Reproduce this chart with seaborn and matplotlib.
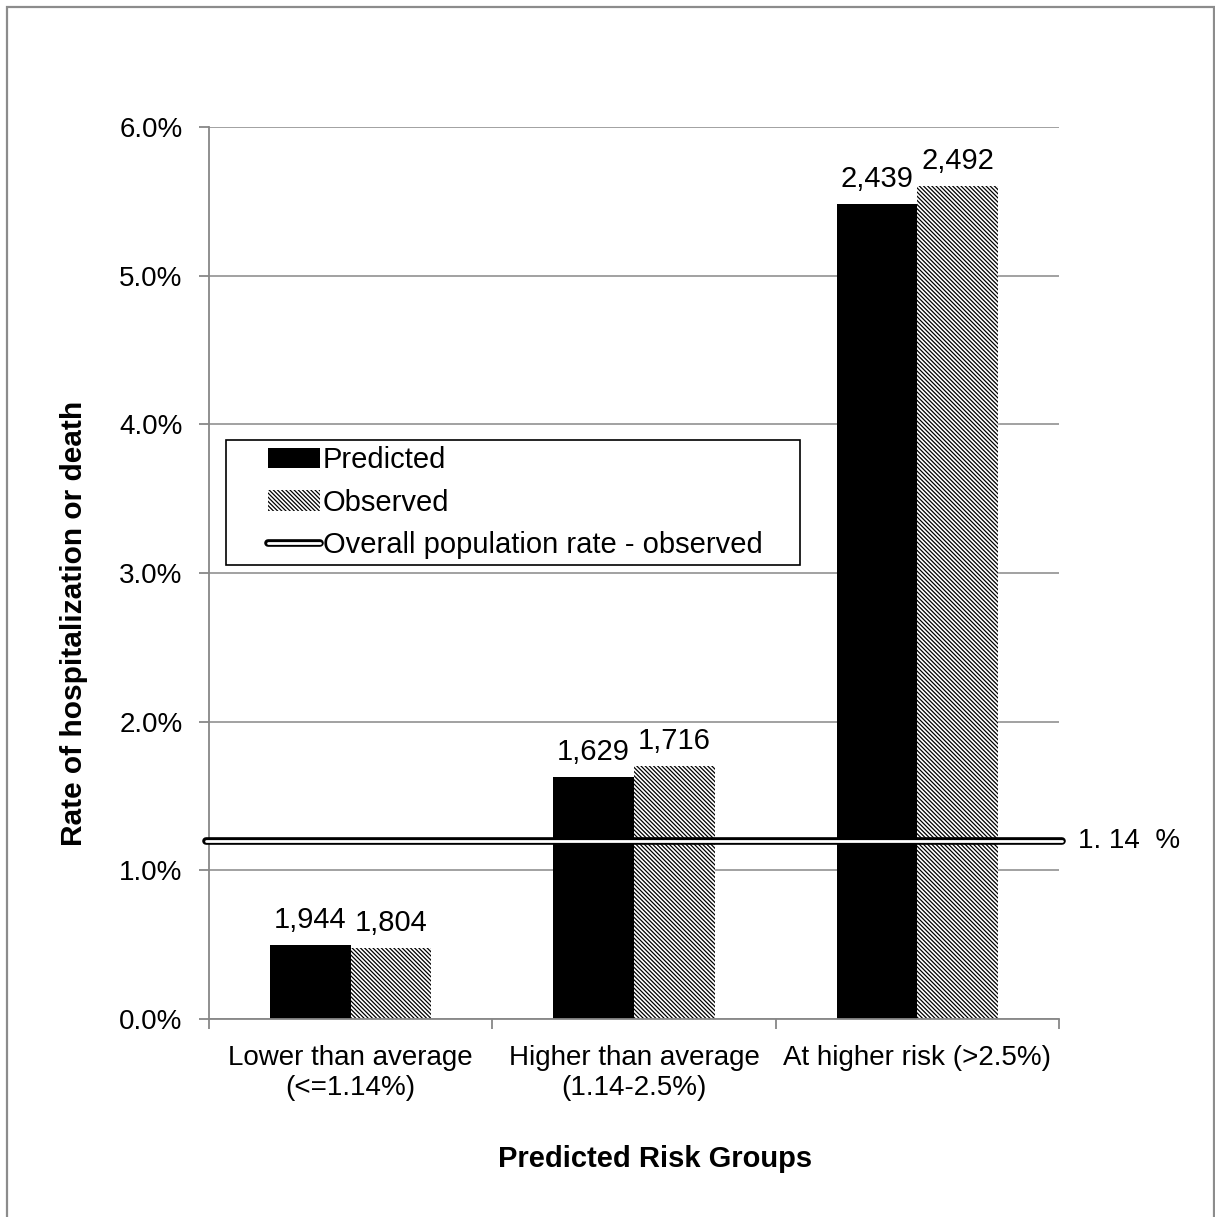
import numpy as np
import pandas as pd
import seaborn as sns
import matplotlib.pyplot as plt
import matplotlib.patheffects as pe
from matplotlib.patches import Patch, Rectangle
from matplotlib.lines import Line2D

# values (rate in %)
groups = ['Lower than average\n(<=1.14%)', 'Higher than average\n(1.14-2.5%)', 'At higher risk (>2.5%)']
predicted = [0.50, 1.63, 5.48]
observed = [0.48, 1.70, 5.60]
predicted_n = ['1,944', '1,629', '2,439']
observed_n = ['1,804', '1,716', '2,492']
overall_rate = 1.2
overall_label = '1. 14  %'
yticks = [0, 1, 2, 3, 4, 5, 6]

df = pd.DataFrame({'group': groups * 2,
                   'series': ['Predicted'] * 3 + ['Observed'] * 3,
                   'rate': predicted + observed})

sns.set_theme(style='white')
plt.rcParams['font.family'] = ['Liberation Sans', 'DejaVu Sans']
plt.rcParams['hatch.linewidth'] = 0.9
plt.rcParams['text.color'] = 'black'
plt.rcParams['axes.labelcolor'] = 'black'
plt.rcParams['xtick.color'] = 'black'
plt.rcParams['ytick.color'] = 'black'

grey = '#878787'
fs = 20
hatch = '\\' * 8

fig = plt.figure(figsize=(12.15, 12.17), dpi=100)
ax = fig.add_axes([0.172, 0.1627, 0.6996, 0.733])

sns.barplot(data=df, x='group', y='rate', hue='series', palette=['black', 'white'],
            width=0.57, gap=0, saturation=1, linewidth=0, legend=False, ax=ax)

for bar in ax.containers[1]:
    bar.set_hatch(hatch)
    bar.set_edgecolor('black')
    bar.set_linewidth(0)

ax.bar_label(ax.containers[0], labels=predicted_n, padding=8, fontsize=21)
ax.bar_label(ax.containers[1], labels=observed_n, padding=8, fontsize=21)

# overall population rate: double line
ax.plot([-0.51, 2.51], [overall_rate, overall_rate], color='white', lw=2,
        solid_capstyle='round', clip_on=False, zorder=5,
        path_effects=[pe.Stroke(linewidth=5.5, foreground='black'), pe.Normal()])
ax.text(1.022, overall_rate, overall_label, transform=ax.get_yaxis_transform(),
        va='center', ha='left', fontsize=fs)

ax.set_xlim(-0.5, 2.5)
ax.set_ylim(0, 6)
ax.set_yticks(yticks)
ax.set_yticklabels([f'{t:.1f}%' for t in yticks])
ax.set_xticks(np.arange(len(groups) + 1) - 0.5, minor=True)
ax.yaxis.grid(True, color=grey, lw=1.1)
ax.set_axisbelow(True)

for s in ['top', 'right']:
    ax.spines[s].set_visible(False)
for s in ['left', 'bottom']:
    ax.spines[s].set_color(grey)
    ax.spines[s].set_linewidth(1.3)

ax.tick_params(axis='y', left=True, length=7, width=1.3, color=grey, pad=12, labelsize=fs)
ax.tick_params(axis='x', which='major', bottom=False, pad=13, labelsize=fs)
ax.tick_params(axis='x', which='minor', bottom=True, length=7, width=1.3, color=grey)

ax.set_xlabel('Predicted Risk Groups', fontsize=21, fontweight='bold')
ax.set_ylabel('Rate of hospitalization or death', fontsize=21.5, fontweight='bold')
ax.xaxis.set_label_coords(0.525, -0.141)
ax.yaxis.set_label_coords(-0.142, 0.444)

# legend with its own box
ax.add_patch(Rectangle((0.02, 0.509), 0.675, 0.14, transform=ax.transAxes,
                       facecolor='white', edgecolor='black', lw=1.2, zorder=6))
handles = [
    Patch(facecolor='black', edgecolor='black', lw=0),
    Patch(facecolor='white', edgecolor='black', lw=0, hatch=hatch),
    Line2D([0], [0], color='white', lw=2, solid_capstyle='round',
           path_effects=[pe.Stroke(linewidth=5.5, foreground='black'), pe.Normal()]),
]
leg = ax.legend(handles, ['Predicted', 'Observed', 'Overall population rate - observed'],
                loc='upper left', bbox_to_anchor=(0.069, 0.642), frameon=False,
                fontsize=21, handlelength=1.8, handletextpad=0.1, labelspacing=0.5,
                borderpad=0, borderaxespad=0)
leg.set_zorder(7)

# outer grey frame
fig.add_artist(Rectangle((7 / 1215, -0.01), 1207 / 1215, 1.0042, transform=fig.transFigure,
                         fill=False, edgecolor='#8c8c8c', lw=1.6))

fig.savefig('out.png', dpi=100)
